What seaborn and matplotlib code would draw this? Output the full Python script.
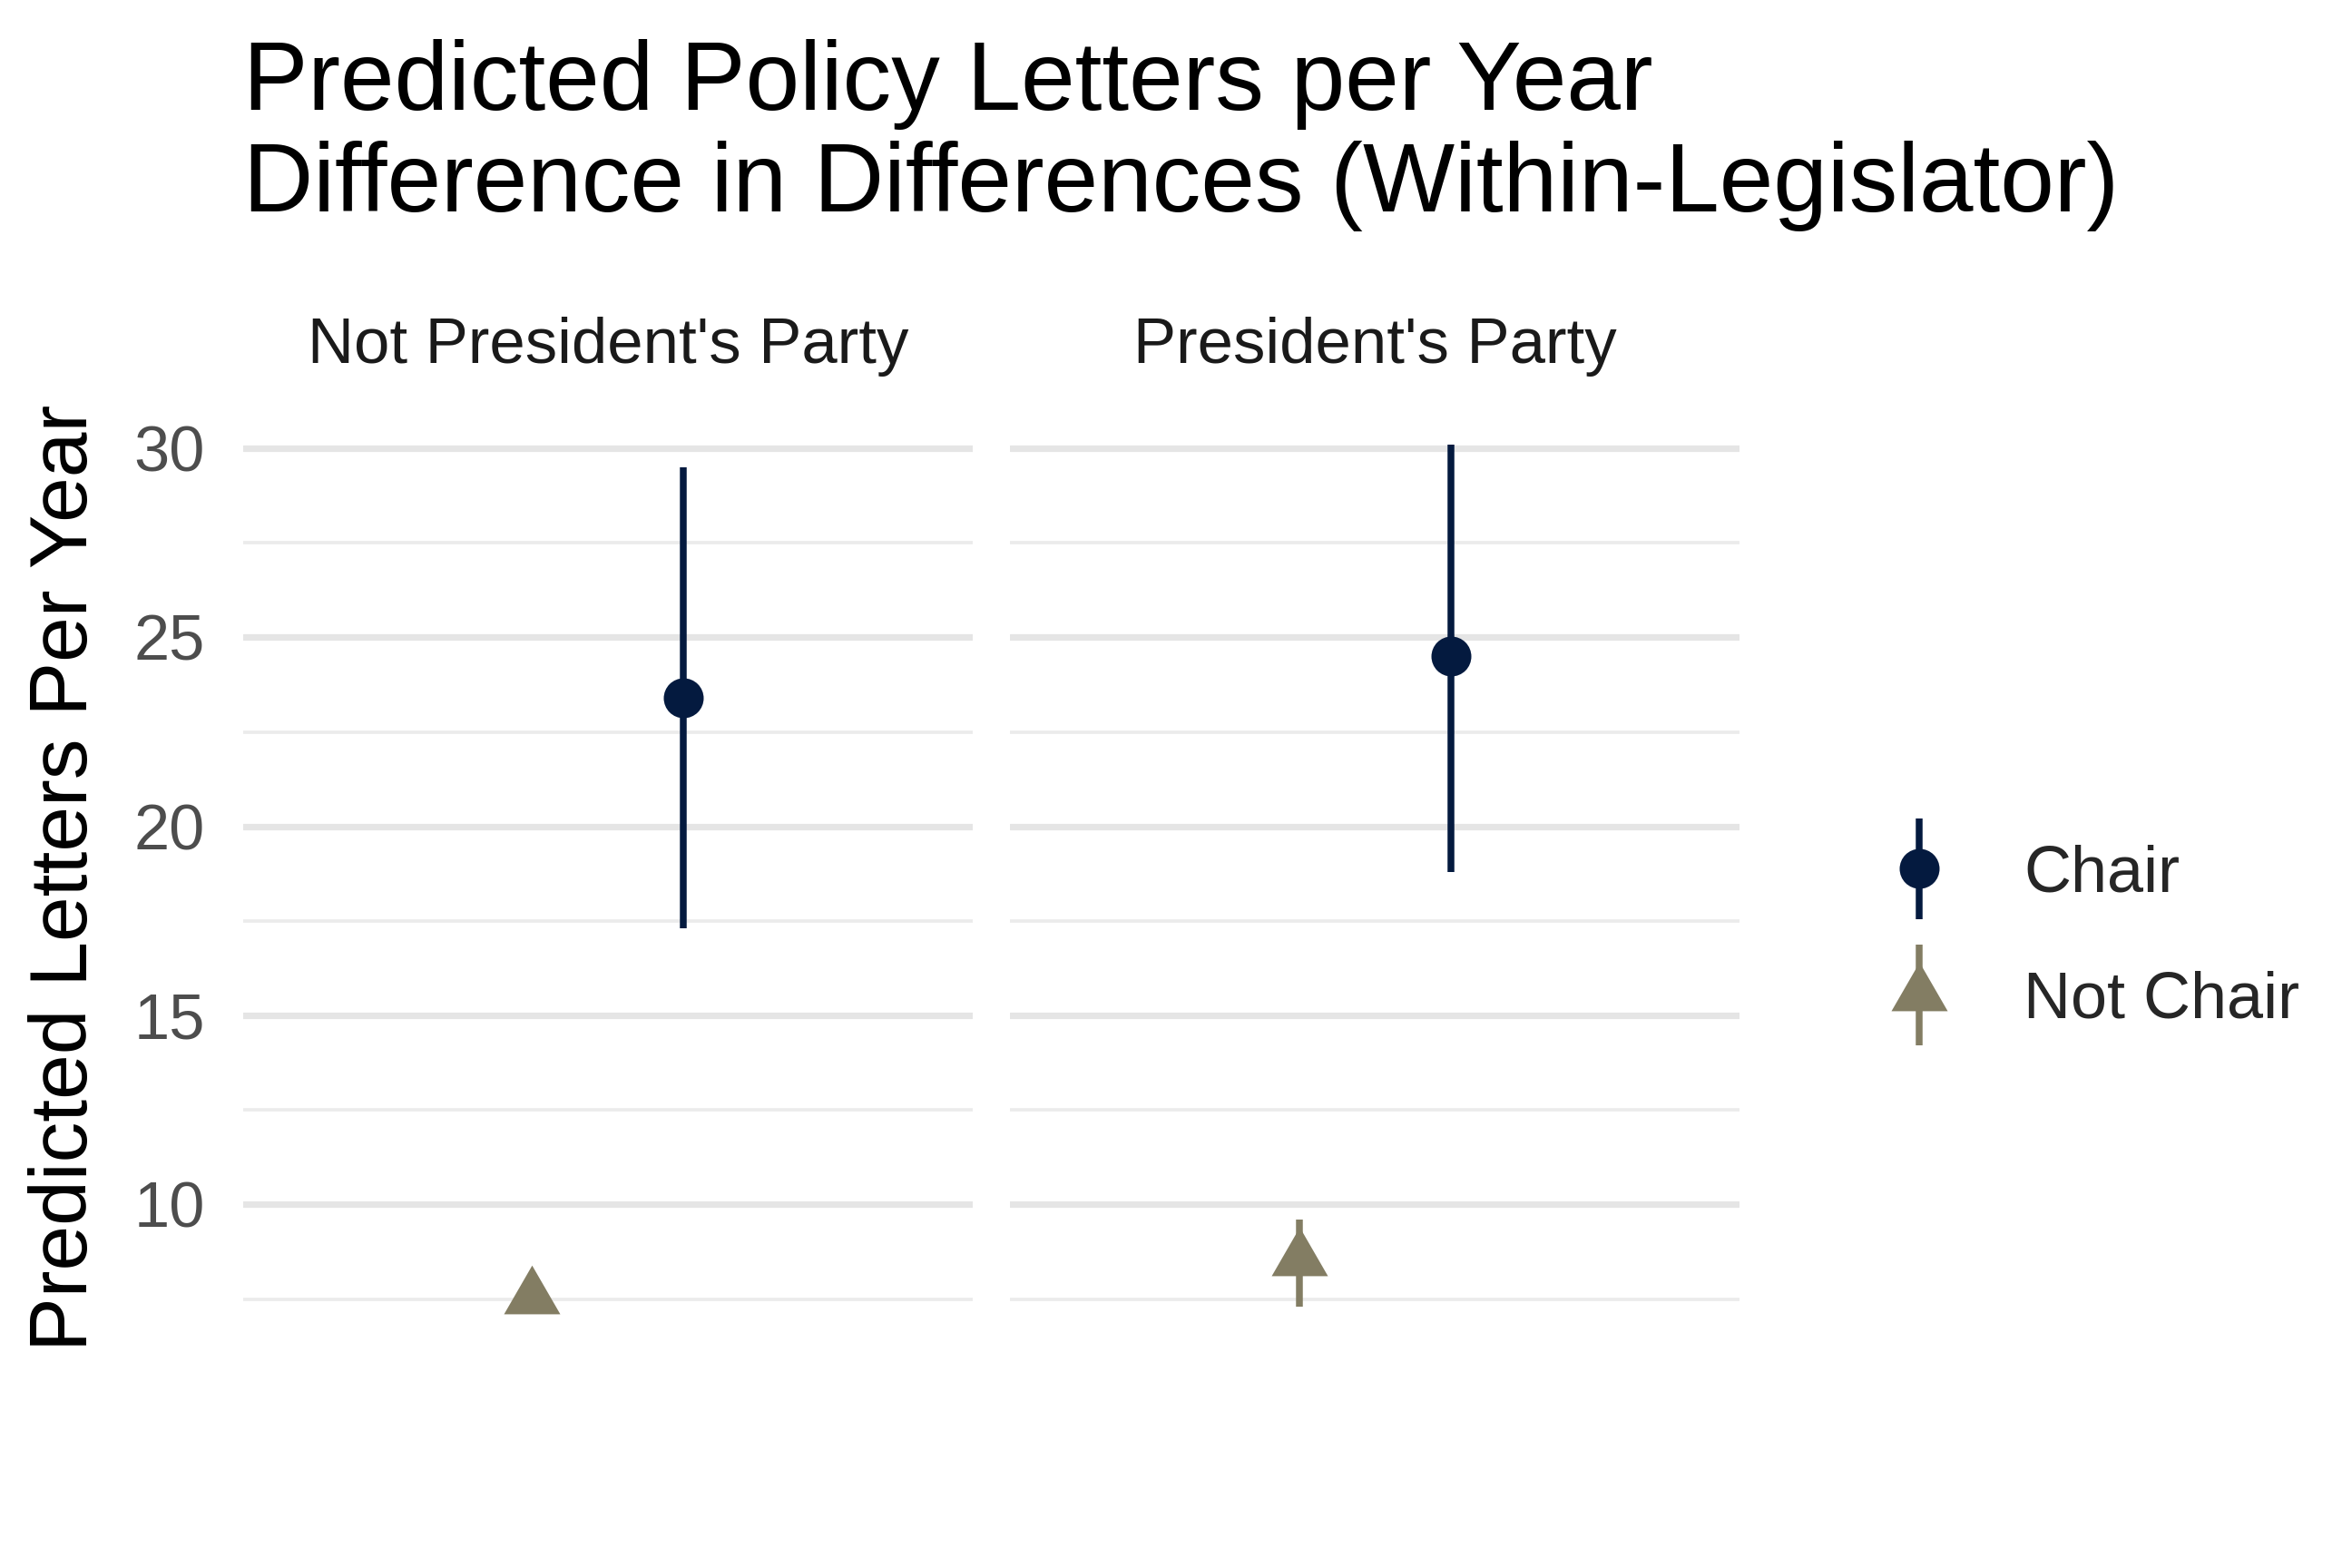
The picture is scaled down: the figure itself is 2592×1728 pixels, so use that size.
import matplotlib
matplotlib.use("Agg")
import matplotlib.pyplot as plt
from matplotlib.lines import Line2D
import seaborn as sns
import pandas as pd

# ---- data ----
panels = ["Not President's Party", "President's Party"]
groups = ["Chair", "Not Chair"]
est_chair = [23.4, 24.5]
lo_chair = [17.3, 18.8]
hi_chair = [29.5, 30.1]
est_notchair = [7.55, 8.55]
lo_notchair = [7.2, 7.3]
hi_notchair = [7.85, 9.6]
yticks = [10, 15, 20, 25, 30]

rows = []
for i, p in enumerate(panels):
    rows.append(dict(panel=p, group="Chair", est=est_chair[i], lo=lo_chair[i], hi=hi_chair[i]))
    rows.append(dict(panel=p, group="Not Chair", est=est_notchair[i], lo=lo_notchair[i], hi=hi_notchair[i]))
df = pd.DataFrame(rows)
offset = {"Chair": 0.125, "Not Chair": -0.125}
df["x"] = df["group"].map(offset)

sns.set_theme(style="white")
plt.rcParams["font.family"] = ["Liberation Sans", "DejaVu Sans"]

colors = {"Chair": "#041A3F", "Not Chair": "#837D63"}
tri = [(0, 1), (-0.866, -0.5), (0.866, -0.5)]
markers = {"Chair": "o", "Not Chair": tri}
msize = {"Chair": 215, "Not Chair": 570}

fig = plt.figure(figsize=(12, 8), dpi=216)
W, H = 1548, 1032
left0, w = 160 / W, 480 / W
left1 = 665 / W
bottom = 1 - 891 / H
height = (891 - 264) / H

ymin = min(lo_notchair + lo_chair)
ymax = max(hi_chair + hi_notchair)
rng = ymax - ymin
ylim = (ymin - 0.05 * rng, ymax + 0.05 * rng)

axes = []
for i, p in enumerate(panels):
    ax = fig.add_axes([[left0, left1][i], bottom, w, height])
    axes.append(ax)
    sub = df[df.panel == p]
    for y in yticks:
        ax.axhline(y, color="#E5E5E5", lw=2.4, zorder=0)
    for y in [7.5, 12.5, 17.5, 22.5, 27.5]:
        ax.axhline(y, color="#EBEBEB", lw=1.2, zorder=0)
    for g in groups:
        s = sub[sub.group == g]
        ax.vlines(s["x"], s["lo"], s["hi"], color=colors[g], lw=2.5, zorder=2)
        sns.scatterplot(data=s, x="x", y="est", color=colors[g], marker=markers[g],
                        s=msize[g], linewidth=0, ax=ax, zorder=3, legend=False)
    ax.set_xlim(-0.6, 0.6)
    ax.set_ylim(*ylim)
    ax.set_yticks(yticks)
    ax.set_xticks([])
    ax.set_xlabel("")
    ax.set_ylabel("")
    for sp in ax.spines.values():
        sp.set_visible(False)
    ax.set_title(p, fontsize=23.6, color="#1A1A1A", pad=14)
    ax.tick_params(axis="y", length=0, pad=14, labelsize=23.5, labelcolor="#4D4D4D")
    if i == 1:
        ax.set_yticklabels([])

axes[0].set_ylabel("Predicted Letters Per Year", fontsize=29.8, color="black")
axes[0].yaxis.set_label_coords(-0.19, 0.5)

fig.text(160 / W, 1 - 139 / H,
         "Predicted Policy Letters per Year\nDifference in Differences (Within-Legislator)",
         fontsize=35.7, va="baseline", ha="left", color="black", linespacing=1.15)

handles = []
for g in groups:
    bar = Line2D([], [], marker="|", markersize=37, mew=2.5, color=colors[g], linestyle="none")
    pt = Line2D([], [], marker=markers[g], markersize=(msize[g]) ** 0.5, color=colors[g],
                linestyle="none", markeredgewidth=0)
    handles.append((bar, pt))
fig.legend(handles, groups, loc="center left", bbox_to_anchor=(1190 / W, 1 - 617 / H),
           frameon=False, fontsize=24, handlelength=1.6, labelspacing=1.0, handletextpad=0.8)

fig.savefig("out.png", dpi=216, facecolor="white")
